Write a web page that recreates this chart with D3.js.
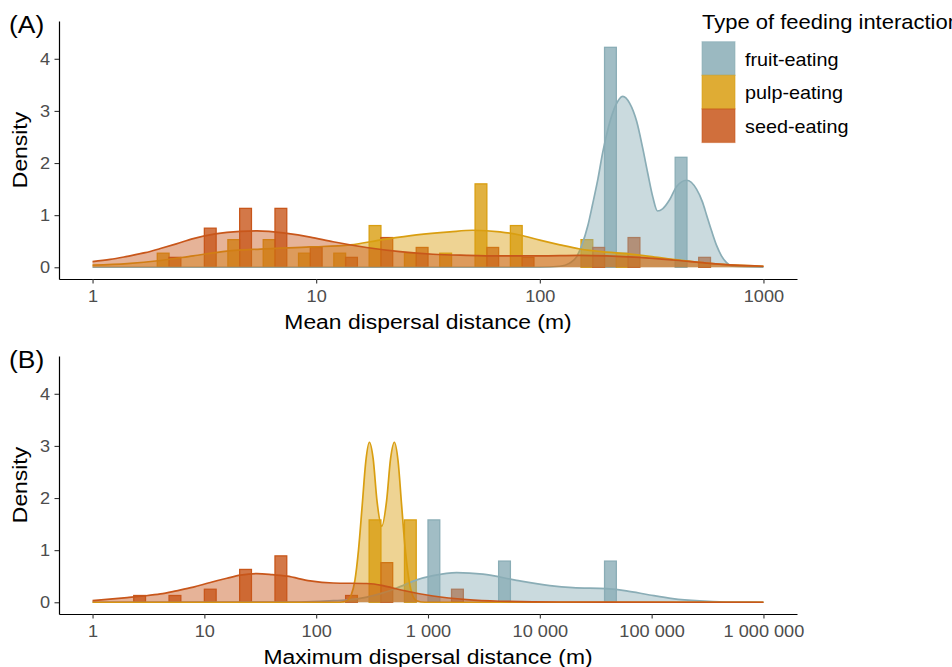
<!DOCTYPE html>
<html>
<head>
<meta charset="utf-8">
<script src="https://cdn.jsdelivr.net/npm/d3@7"></script>
<style>
  body { margin: 0; background: #fff; }
  text { font-family: "Liberation Sans", Arial, Helvetica, sans-serif; }
</style>
</head>
<body>
<svg id="chart" width="952" height="667"></svg>
<script>
// groups + colours
const groups = ["fruit-eating", "pulp-eating", "seed-eating"];
const groupColors = ["#8AADB6", "#D99E10", "#C8561A"];

// histogram: 20 bins on the log10 axis, density per bin
const binsCount = 20;
const meanFruitHist = [0,0,0,0,0,0,0,0,0,0,0,0,0,0,0,4.22,0,2.11,0,0];
const meanPulpHist  = [0,0,0.27,0,0.53,0.53,0.27,0.27,0.8,0.27,0.27,1.6,0.8,0,0.53,0.27,0,0,0,0];
const meanSeedHist  = [0,0,0.19,0.75,1.13,1.13,0.38,0.19,0.57,0.38,0,0.38,0.19,0,0.38,0.57,0,0.19,0,0];

const maxFruitHist = [0,0,0,0,0,0,0,0,0,0,1.58,0,0.79,0,0,0.79,0,0,0,0];
const maxPulpHist  = [0,0,0,0,0,0,0,0,1.58,1.58,0,0,0,0,0,0,0,0,0,0];
const maxSeedHist  = [0,0.13,0.13,0.25,0.63,0.89,0,0.13,0.76,0,0.25,0,0,0,0,0,0,0,0,0];

// density curves: [distance (m), density]
const meanFruitDens = [[1,0],[100,0],[123,0.02],[136,0.08],[146,0.2],[154,0.42],[164,0.8],[172,1.2],[182,1.7],[191,2.2],[203,2.7],[218,3.1],[235,3.28],[252,3.15],[271,2.8],[288,2.3],[304,1.8],[320,1.35],[336,1.08],[354,1.12],[381,1.3],[409,1.55],[453,1.67],[502,1.5],[534,1.25],[557,1.0],[586,0.7],[617,0.42],[649,0.22],[684,0.09],[727,0.02],[1000,0]];
const meanPulpDens = [[1,0.04],[1.43,0.07],[2.01,0.13],[2.82,0.22],[3.99,0.31],[5.63,0.35],[9.4,0.39],[14.2,0.43],[19.9,0.53],[28.1,0.62],[39.6,0.68],[50.1,0.71],[66.3,0.68],[81.4,0.62],[100,0.52],[123,0.43],[151,0.35],[199,0.29],[243,0.26],[310,0.21],[393,0.15],[555,0.08],[742,0.04],[1000,0.02]];
const meanSeedDens = [[1,0.11],[1.2,0.15],[1.43,0.21],[1.72,0.28],[2.01,0.36],[2.37,0.45],[2.82,0.55],[3.54,0.64],[4.58,0.69],[5.44,0.7],[7.4,0.65],[9.4,0.58],[11.9,0.49],[16.8,0.38],[23.7,0.3],[33.3,0.25],[47.1,0.23],[66.3,0.22],[100,0.22],[151,0.23],[199,0.22],[279,0.19],[393,0.14],[555,0.08],[742,0.04],[1000,0.02]];

const maxFruitDens = [[1,0],[72,0.005],[142,0.03],[201,0.05],[284,0.1],[396,0.18],[562,0.3],[793,0.43],[1108,0.51],[1804,0.57],[3098,0.54],[6194,0.42],[12285,0.32],[19700,0.28],[39400,0.26],[59440,0.22],[95970,0.14],[154000,0.07],[268300,0.025],[464500,0.005],[1000000,0]];
const maxPulpDens = [[1,0],[164,0],[189,0.03],[205,0.13],[222,0.42],[239,1.0],[258,1.86],[278,2.71],[299,3.07],[323,2.76],[350,1.94],[386,1.46],[426,1.94],[463,2.76],[500,3.07],[540,2.71],[581,1.86],[627,1.0],[677,0.42],[729,0.13],[791,0.03],[940,0],[1000000,0]];
const maxSeedDens = [[1,0.03],[2.04,0.09],[2.85,0.12],[4.05,0.16],[5.62,0.22],[7.98,0.29],[11.3,0.38],[15.9,0.46],[21,0.52],[29.5,0.55],[40.5,0.53],[54.7,0.5],[88.4,0.41],[142,0.37],[284,0.36],[396,0.32],[562,0.24],[1108,0.12],[2216,0.05],[4395,0.02],[15090,0.005],[1000000,0]];

// axes
const meanTicks = [1, 10, 100, 1000];
const maxTicks = [1, 10, 100, 1000, 10000, 100000, 1000000];
const densityTicks = [0, 1, 2, 3, 4];
const densityLimits = [0, 4.5];

const svg = d3.select("#chart");
const sx = 1.1; // the figure's font runs a bit wider than Arial
const spaced = d3.formatLocale({decimal: ".", thousands: " ", grouping: [3], currency: ["", ""]}).format(",");

function addText(g, x, y, str, size, anchor, rot, fill) {
  return g.append("text")
    .attr("transform", `translate(${x},${y}) rotate(${rot || 0}) scale(${sx},1)`)
    .attr("text-anchor", anchor)
    .style("font-size", size + "px")
    .style("fill", fill || "#000")
    .text(str);
}

function drawPanel(p) {
  const g = svg.append("g");
  const lo = Math.log10(p.ticks[0]), hi = Math.log10(p.ticks[p.ticks.length - 1]);
  const pad = (hi - lo) * 0.05;
  const x = d3.scaleLog().domain([Math.pow(10, lo - pad), Math.pow(10, hi + pad)]).range([59, 797]);
  const yPad = (densityLimits[1] - densityLimits[0]) * 0.05;
  const y = d3.scaleLinear()
    .domain([densityLimits[0] - yPad, densityLimits[1] + yPad])
    .range([p.bottom, p.bottom - 258]);

  // dodged histogram bars
  const w = (hi - lo) / (binsCount - 1);
  const edge = (k, part) => x(Math.pow(10, lo + k * w - w / 2 + part * w / 3));
  p.hist.forEach((vals, gi) => {
    g.append("g").selectAll("rect")
      .data(vals.map((v, k) => ({k, v})).filter(d => d.v > 0))
      .join("rect")
        .attr("x", d => edge(d.k, gi))
        .attr("width", d => edge(d.k, gi + 1) - edge(d.k, gi))
        .attr("y", d => y(d.v))
        .attr("height", d => y(0) - y(d.v))
        .style("fill", groupColors[gi])
        .style("fill-opacity", 0.8)
        .style("stroke", groupColors[gi])
        .style("stroke-width", 1.3);
  });

  // density curves
  const area = d3.area()
    .x(d => x(d[0])).y0(y(0)).y1(d => y(d[1]))
    .curve(d3.curveMonotoneX);
  const line = d3.line()
    .x(d => x(d[0])).y(d => y(d[1]))
    .curve(d3.curveMonotoneX);
  p.dens.forEach((pts, gi) => {
    g.append("path").attr("d", area(pts))
      .style("fill", groupColors[gi]).style("fill-opacity", 0.45);
    g.append("path").attr("d", line(pts))
      .style("fill", "none").style("stroke", groupColors[gi]).style("stroke-width", 1.7);
  });

  // axes
  const xAxis = g.append("g")
    .attr("transform", `translate(0,${p.bottom})`)
    .call(d3.axisBottom(x).tickValues(p.ticks).tickFormat(p.fmt)
      .tickSize(4.5).tickSizeOuter(0).tickPadding(6.5));
  const yAxis = g.append("g")
    .attr("transform", "translate(59,0)")
    .call(d3.axisLeft(y).tickValues(densityTicks).tickFormat(d3.format("d"))
      .tickSize(4.5).tickSizeOuter(0).tickPadding(3.7));
  [xAxis, yAxis].forEach(a => {
    a.select(".domain").style("stroke", "#000").style("stroke-width", 1.2);
    a.selectAll(".tick line").style("stroke", "#333").style("stroke-width", 1.1);
    a.selectAll(".tick text")
      .style("font-size", "16.5px").style("fill", "#4D4D4D")
      .style("font-family", '"Liberation Sans", Arial, sans-serif');
  });
  xAxis.selectAll(".tick text").attr("transform", `scale(${sx},1)`);
  yAxis.selectAll(".tick text").attr("transform", `scale(${sx},1)`);

  addText(g, 428, p.bottom + 49.5, p.title, 20.8, "middle");
  addText(g, 26.5, p.bottom - 129, "Density", 20.8, "middle", -90);
  addText(g, 9, p.bottom - 246, p.tag, 24, "start");
}

drawPanel({
  bottom: 279, ticks: meanTicks, fmt: d3.format("d"),
  hist: [meanFruitHist, meanPulpHist, meanSeedHist],
  dens: [meanFruitDens, meanPulpDens, meanSeedDens],
  title: "Mean dispersal distance (m)", tag: "(A)"
});
drawPanel({
  bottom: 614, ticks: maxTicks, fmt: spaced,
  hist: [maxFruitHist, maxPulpHist, maxSeedHist],
  dens: [maxFruitDens, maxPulpDens, maxSeedDens],
  title: "Maximum dispersal distance (m)", tag: "(B)"
});

// legend
const legend = svg.append("g");
addText(legend, 702, 28.5, "Type of feeding interaction", 20, "start");
groups.forEach((name, i) => {
  const top = 41.7 + i * 33.6;
  legend.append("rect")
    .attr("x", 702).attr("y", top).attr("width", 33).attr("height", 33.6)
    .style("fill", groupColors[i]).style("fill-opacity", 0.85)
    .style("stroke", groupColors[i]).style("stroke-opacity", 0.5).style("stroke-width", 1.2);
  addText(legend, 745, top + 16.8 + 7.2, name, 18, "start");
});
</script>
</body>
</html>
